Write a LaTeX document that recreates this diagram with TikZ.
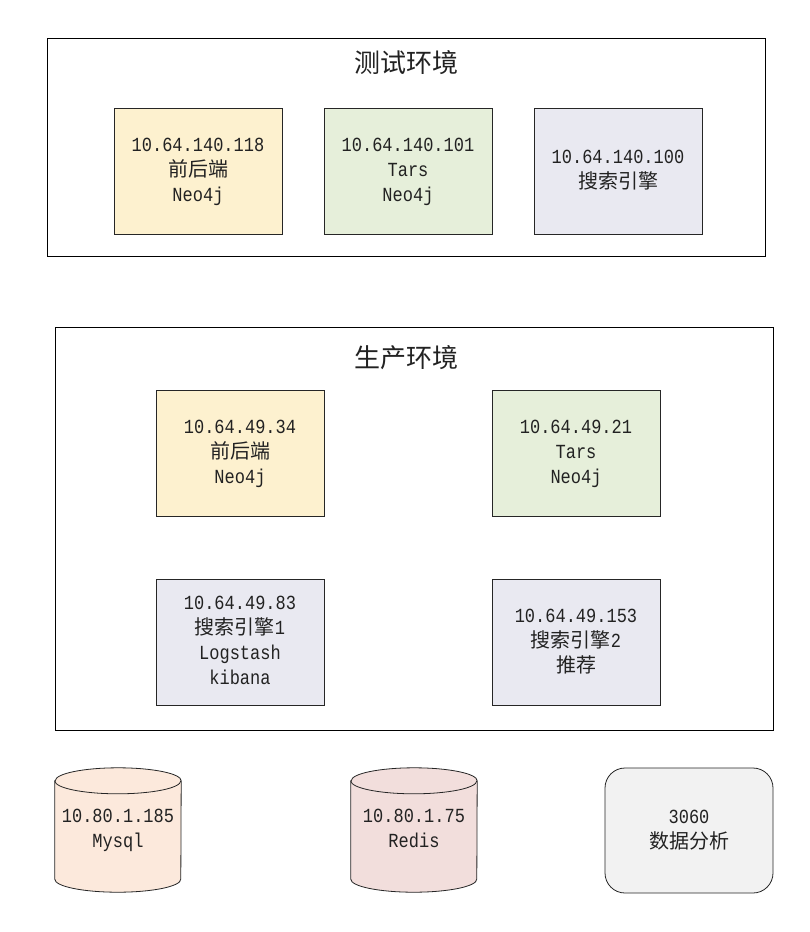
\documentclass[tikz,border=0pt]{standalone}
\usepackage{fontspec}
\setmainfont{Liberation Mono}[FakeStretch=0.85]
\newfontfamily\cjk{Noto Sans CJK SC}
\definecolor{cyel}{HTML}{FDF1CF}
\definecolor{cgrn}{HTML}{E6EFDA}
\definecolor{clav}{HTML}{E9E9F1}
\definecolor{cmys}{HTML}{FCE9DC}
\definecolor{cred}{HTML}{F2DEDC}
\definecolor{cgry}{HTML}{F2F2F2}
\definecolor{ctxt}{HTML}{222222}
\tikzset{
  envbox/.style={draw=black, line width=0.8pt, fill=white, minimum width=718pt, inner sep=0pt},
  srvbox/.style={draw=black!85, line width=0.8pt, minimum width=168pt, minimum height=126pt, align=center, text=ctxt, inner sep=0pt, font=\fontsize{20}{25}\selectfont},
  dbtext/.style={minimum width=126pt, minimum height=124pt, align=center, text=ctxt, inner sep=0pt, font=\fontsize{20}{25}\selectfont},
  dbbody/.style={draw=black!85, line width=0.8pt},
  titletext/.style={text=ctxt, font=\cjk\fontsize{26}{30}\selectfont},
}
\begin{document}
\begin{tikzpicture}[x=1pt,y=1pt]
\useasboundingbox (0,0) rectangle (810,-932);
\fill[white] (0,0) rectangle (810,-932);
% test environment
\node[envbox, minimum height=218pt] (testenv) at (406,-147) {};
\node[titletext] (testtitle) at (406,-63) {测试环境};
\node[srvbox, fill=cyel] (t1) at (198,-171) {\strut 10.64.140.118\\{\cjk 前后端}\\Neo4j\strut};
\node[srvbox, fill=cgrn] (t2) at (408,-171) {\strut 10.64.140.101\\Tars\\Neo4j\strut};
\node[srvbox, fill=clav] (t3) at (618,-171) {\strut 10.64.140.100\\{\cjk 搜索引擎}\strut};
% production environment
\node[envbox, minimum height=403pt] (prodenv) at (414,-528.5) {};
\node[titletext] (prodtitle) at (406,-358) {生产环境};
\node[srvbox, fill=cyel] (p1) at (240,-453) {\strut 10.64.49.34\\{\cjk 前后端}\\Neo4j\strut};
\node[srvbox, fill=cgrn] (p2) at (576,-453) {\strut 10.64.49.21\\Tars\\Neo4j\strut};
\node[srvbox, fill=clav] (p3) at (240,-642) {\strut 10.64.49.83\\{\cjk 搜索引擎}1\\Logstash\\kibana\strut};
\node[srvbox, fill=clav] (p4) at (576,-642) {\strut 10.64.49.153\\{\cjk 搜索引擎}2\\{\cjk 推荐}\strut};
% databases
\node[dbtext] (mysql) at (118,-830) {};
\node[dbtext] (redis) at (414,-830) {};
\foreach \n/\c in {mysql/cmys, redis/cred}{
  \path[dbbody, fill=\c] ([yshift=-13pt]\n.north west) -- ([yshift=13pt]\n.south west)
    arc[start angle=180, end angle=360, x radius=63, y radius=13]
    -- ([yshift=-13pt]\n.north east)
    arc[start angle=0, end angle=180, x radius=63, y radius=13] -- cycle;
  \draw[dbbody] ([yshift=-13pt]\n.north west)
    arc[start angle=180, end angle=360, x radius=63, y radius=13];
}
\node[dbtext] at (mysql.center) {\strut 10.80.1.185\\Mysql\strut};
\node[dbtext] at (redis.center) {\strut 10.80.1.75\\Redis\strut};
\node[srvbox, fill=cgry, rounded corners=20pt, minimum height=125pt] (ana) at (689,-830.5) {\strut 3060\\{\cjk 数据分析}\strut};
\end{tikzpicture}
\end{document}
